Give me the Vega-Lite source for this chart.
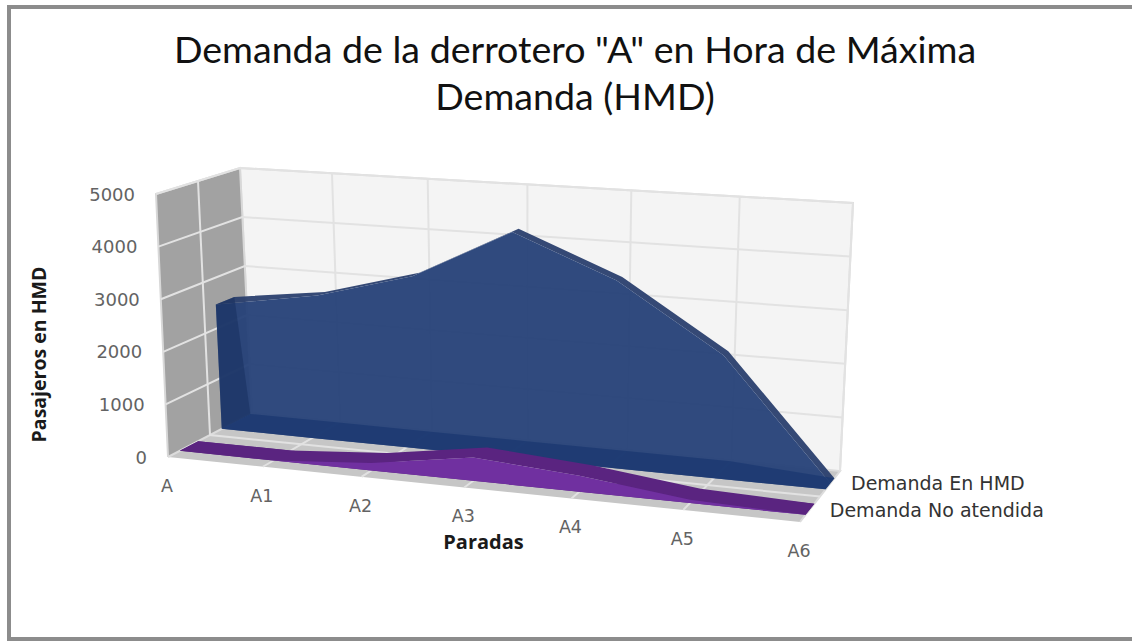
{
"$schema":"https://vega.github.io/schema/vega-lite/v6.json",
"width":1130,"height":632,"padding":{"left":9,"top":7,"right":0,"bottom":2},"autosize":{"type":"none"},
"background":"#ffffff",
"view":{"stroke":"#8c8c8c","strokeWidth":4,"fill":"#ffffff"},
"title":{"text":["Demanda de la derrotero \"A\" en Hora de Máxima","Demanda (HMD)"],"font":"Lato","fontSize":37.6,"fontWeight":"normal","color":"#111111","lineHeight":47,"anchor":"start","align":"center","frame":"group","baseline":"top","offset":0,"dy":111,"dx":566},
"data":{"values":[
{"capa":"serie","serie":"Demanda En HMD","parada":"A","i":0,"pasajeros":2470},
{"capa":"serie","serie":"Demanda En HMD","parada":"A1","i":1,"pasajeros":2710},
{"capa":"serie","serie":"Demanda En HMD","parada":"A2","i":2,"pasajeros":3230},
{"capa":"serie","serie":"Demanda En HMD","parada":"A3","i":3,"pasajeros":4220},
{"capa":"serie","serie":"Demanda En HMD","parada":"A4","i":4,"pasajeros":3430},
{"capa":"serie","serie":"Demanda En HMD","parada":"A5","i":5,"pasajeros":2180},
{"capa":"serie","serie":"Demanda En HMD","parada":"A6","i":6,"pasajeros":0},
{"capa":"serie","serie":"Demanda No atendida","parada":"A","i":0,"pasajeros":0},
{"capa":"serie","serie":"Demanda No atendida","parada":"A1","i":1,"pasajeros":0},
{"capa":"serie","serie":"Demanda No atendida","parada":"A2","i":2,"pasajeros":140},
{"capa":"serie","serie":"Demanda No atendida","parada":"A3","i":3,"pasajeros":430},
{"capa":"serie","serie":"Demanda No atendida","parada":"A4","i":4,"pasajeros":290},
{"capa":"serie","serie":"Demanda No atendida","parada":"A5","i":5,"pasajeros":60},
{"capa":"serie","serie":"Demanda No atendida","parada":"A6","i":6,"pasajeros":0},
{"capa":"trasera","i":0,"d":1,"pasajeros":0,"n":0},{"capa":"trasera","i":0,"d":1,"pasajeros":5000,"n":1},{"capa":"trasera","i":6,"d":1,"pasajeros":5000,"n":2},{"capa":"trasera","i":6,"d":1,"pasajeros":0,"n":3},
{"capa":"lateral","i":0,"d":0,"pasajeros":0,"n":0},{"capa":"lateral","i":0,"d":0,"pasajeros":5000,"n":1},{"capa":"lateral","i":0,"d":1,"pasajeros":5000,"n":2},{"capa":"lateral","i":0,"d":1,"pasajeros":0,"n":3},
{"capa":"suelo","i":0,"d":0,"pasajeros":0,"n":0},{"capa":"suelo","i":0,"d":1,"pasajeros":0,"n":1},{"capa":"suelo","i":6,"d":1,"pasajeros":0,"n":2},{"capa":"suelo","i":6,"d":0,"pasajeros":0,"n":3},
{"capa":"rejilla","g":"v1000","i":0,"d":0,"pasajeros":1000,"n":0},{"capa":"rejilla","g":"v1000","i":0,"d":1,"pasajeros":1000,"n":1},{"capa":"rejilla","g":"v1000","i":6,"d":1,"pasajeros":1000,"n":2},
{"capa":"rejilla","g":"v2000","i":0,"d":0,"pasajeros":2000,"n":0},{"capa":"rejilla","g":"v2000","i":0,"d":1,"pasajeros":2000,"n":1},{"capa":"rejilla","g":"v2000","i":6,"d":1,"pasajeros":2000,"n":2},
{"capa":"rejilla","g":"v3000","i":0,"d":0,"pasajeros":3000,"n":0},{"capa":"rejilla","g":"v3000","i":0,"d":1,"pasajeros":3000,"n":1},{"capa":"rejilla","g":"v3000","i":6,"d":1,"pasajeros":3000,"n":2},
{"capa":"rejilla","g":"v4000","i":0,"d":0,"pasajeros":4000,"n":0},{"capa":"rejilla","g":"v4000","i":0,"d":1,"pasajeros":4000,"n":1},{"capa":"rejilla","g":"v4000","i":6,"d":1,"pasajeros":4000,"n":2},
{"capa":"rejilla","g":"v5000","i":0,"d":0,"pasajeros":5000,"n":0},{"capa":"rejilla","g":"v5000","i":0,"d":1,"pasajeros":5000,"n":1},{"capa":"rejilla","g":"v5000","i":6,"d":1,"pasajeros":5000,"n":2},
{"capa":"rejilla","g":"c1","i":1,"d":1,"pasajeros":5000,"n":0},{"capa":"rejilla","g":"c1","i":1,"d":1,"pasajeros":0,"n":1},{"capa":"rejilla","g":"c1","i":1,"d":0,"pasajeros":0,"n":2},
{"capa":"rejilla","g":"c2","i":2,"d":1,"pasajeros":5000,"n":0},{"capa":"rejilla","g":"c2","i":2,"d":1,"pasajeros":0,"n":1},{"capa":"rejilla","g":"c2","i":2,"d":0,"pasajeros":0,"n":2},
{"capa":"rejilla","g":"c3","i":3,"d":1,"pasajeros":5000,"n":0},{"capa":"rejilla","g":"c3","i":3,"d":1,"pasajeros":0,"n":1},{"capa":"rejilla","g":"c3","i":3,"d":0,"pasajeros":0,"n":2},
{"capa":"rejilla","g":"c4","i":4,"d":1,"pasajeros":5000,"n":0},{"capa":"rejilla","g":"c4","i":4,"d":1,"pasajeros":0,"n":1},{"capa":"rejilla","g":"c4","i":4,"d":0,"pasajeros":0,"n":2},
{"capa":"rejilla","g":"c5","i":5,"d":1,"pasajeros":5000,"n":0},{"capa":"rejilla","g":"c5","i":5,"d":1,"pasajeros":0,"n":1},{"capa":"rejilla","g":"c5","i":5,"d":0,"pasajeros":0,"n":2},
{"capa":"rejilla","g":"c6","i":6,"d":1,"pasajeros":5000,"n":0},{"capa":"rejilla","g":"c6","i":6,"d":1,"pasajeros":0,"n":1},
{"capa":"rejilla","g":"d","i":0,"d":0.5,"pasajeros":5000,"n":0},{"capa":"rejilla","g":"d","i":0,"d":0.5,"pasajeros":0,"n":1},{"capa":"rejilla","g":"d","i":6,"d":0.5,"pasajeros":0,"n":2},
{"capa":"eje_x","parada":"A","i":0,"d":0,"pasajeros":0},{"capa":"eje_x","parada":"A1","i":1,"d":0,"pasajeros":0},{"capa":"eje_x","parada":"A2","i":2,"d":0,"pasajeros":0},{"capa":"eje_x","parada":"A3","i":3,"d":0,"pasajeros":0},{"capa":"eje_x","parada":"A4","i":4,"d":0,"pasajeros":0},{"capa":"eje_x","parada":"A5","i":5,"d":0,"pasajeros":0},{"capa":"eje_x","parada":"A6","i":6,"d":0,"pasajeros":0},
{"capa":"eje_y","i":0,"d":0,"pasajeros":0},{"capa":"eje_y","i":0,"d":0,"pasajeros":1000},{"capa":"eje_y","i":0,"d":0,"pasajeros":2000},{"capa":"eje_y","i":0,"d":0,"pasajeros":3000},{"capa":"eje_y","i":0,"d":0,"pasajeros":4000},{"capa":"eje_y","i":0,"d":0,"pasajeros":5000},
{"capa":"eje_z","serie":"Demanda En HMD","i":6,"d":0.75,"pasajeros":0},{"capa":"eje_z","serie":"Demanda No atendida","i":6,"d":0.22,"pasajeros":0}
]},
"transform":[
{"calculate":"datum.capa=='serie'?[0,1,2,3]:[0]","as":"p"},
{"flatten":["p"]},
{"calculate":"datum.capa=='serie'?(datum.serie=='Demanda En HMD'?(datum.p==0&&datum.i>0?0.76:(datum.p==3&&datum.i<6?0.98:(datum.p%2==0?0.64:0.86))):(datum.p%2==0?0.14:0.36)):datum.d","as":"dd"},
{"calculate":"datum.capa=='serie'&&datum.p>=2?0:datum.pasajeros/5000","as":"h"},
{"calculate":"(datum.i/6)/(1+0.133*(1-datum.i/6))","as":"u"},
{"calculate":"(1-datum.dd)*(168+632*datum.u)+datum.dd*(252+588*datum.u)+datum.h*(-12+25*datum.u)","as":"X"},
{"calculate":"(1-datum.dd)*(457+65*datum.u)+datum.dd*(413+58*datum.u)-datum.h*(245+18*(1-datum.dd)+23*datum.u)","as":"Y"},
{"calculate":"datum.p<2?datum.i:100-datum.i","as":"oh"},
{"calculate":"datum.p%2==0?datum.i:100-datum.i","as":"od"},
{"calculate":"[0,1,3,2][datum.p]","as":"ol"}
],
"encoding":{
"x":{"field":"X","type":"quantitative","scale":{"domain":[9,1139],"nice":false,"zero":false},"axis":{"domain":false,"ticks":false,"labels":false,"grid":false,"title":"Paradas","titleFont":"Open Sans","titleFontWeight":"bold","titleFontSize":20,"titleColor":"#1a1a1a","titleX":474,"titleY":-97,"titleBaseline":"middle"}},
"y":{"field":"Y","type":"quantitative","scale":{"domain":[639,7],"nice":false,"zero":false},"axis":{"domain":false,"ticks":false,"labels":false,"grid":false,"title":"Pasajeros en HMD","titleFont":"Open Sans","titleFontWeight":"bold","titleFontSize":19.5,"titleColor":"#1a1a1a","titleX":30,"titleY":347,"titleAngle":-90,"titleBaseline":"middle"}}
},
"layer":[
{"transform":[{"filter":"datum.capa=='trasera'"}],"mark":{"type":"line","fill":"#f4f4f4","stroke":"#dedede","strokeWidth":2},"encoding":{"order":{"field":"n"}}},
{"transform":[{"filter":"datum.capa=='lateral'"}],"mark":{"type":"line","fill":"#a2a2a2","stroke":"#d8d8d8","strokeWidth":2},"encoding":{"order":{"field":"n"}}},
{"transform":[{"filter":"datum.capa=='suelo'"}],"mark":{"type":"line","fill":"#c6c6c6","stroke":"#dcdcdc","strokeWidth":2},"encoding":{"order":{"field":"n"}}},
{"transform":[{"filter":"datum.capa=='rejilla'"}],"mark":{"type":"line","stroke":"#e2e2e2","strokeWidth":2},"encoding":{"detail":{"field":"g"},"order":{"field":"n"}}},
{"transform":[{"filter":"datum.serie=='Demanda En HMD'&&datum.capa=='serie'&&datum.p<2"}],"mark":{"type":"line","fill":"#2a3f6e","fillOpacity":0.95,"stroke":null},"encoding":{"order":{"field":"od"}}},
{"transform":[{"filter":"datum.serie=='Demanda En HMD'&&datum.capa=='serie'&&datum.p%2==0"}],"mark":{"type":"line","fill":"#284379","fillOpacity":0.96,"stroke":null},"encoding":{"order":{"field":"oh"}}},
{"transform":[{"filter":"datum.serie=='Demanda En HMD'&&datum.capa=='serie'&&datum.p>=2"}],"mark":{"type":"line","fill":"#1c3a72","fillOpacity":0.85,"stroke":null},"encoding":{"order":{"field":"od"}}},
{"transform":[{"filter":"datum.serie=='Demanda En HMD'&&datum.capa=='serie'&&datum.i==0"}],"mark":{"type":"line","fill":"#17305f","fillOpacity":0.55,"stroke":null},"encoding":{"order":{"field":"ol"}}},
{"transform":[{"filter":"datum.serie=='Demanda No atendida'&&datum.capa=='serie'&&datum.p>=2"}],"mark":{"type":"line","fill":"#5a2480","stroke":null},"encoding":{"order":{"field":"od"}}},
{"transform":[{"filter":"datum.serie=='Demanda No atendida'&&datum.capa=='serie'&&datum.p<2"}],"mark":{"type":"line","fill":"#5a2480","stroke":null},"encoding":{"order":{"field":"od"}}},
{"transform":[{"filter":"datum.serie=='Demanda No atendida'&&datum.capa=='serie'&&datum.p%2==0"}],"mark":{"type":"line","fill":"#7030a0","stroke":null},"encoding":{"order":{"field":"oh"}}},
{"transform":[{"filter":"datum.capa=='eje_x'"}],"mark":{"type":"text","font":"DejaVu Sans","fontSize":17.5,"color":"#636363","dx":-1,"dy":30},"encoding":{"text":{"field":"parada"}}},
{"transform":[{"filter":"datum.capa=='eje_y'"}],"mark":{"type":"text","font":"DejaVu Sans","fontSize":18,"color":"#636363","align":"right","dx":-21,"dy":1.5},"encoding":{"text":{"field":"pasajeros","type":"nominal"}}},
{"transform":[{"filter":"datum.capa=='eje_z'"}],"mark":{"type":"text","font":"DejaVu Sans","fontSize":19,"color":"#333333","align":"left","dx":21},"encoding":{"text":{"field":"serie"}}}
]
}
